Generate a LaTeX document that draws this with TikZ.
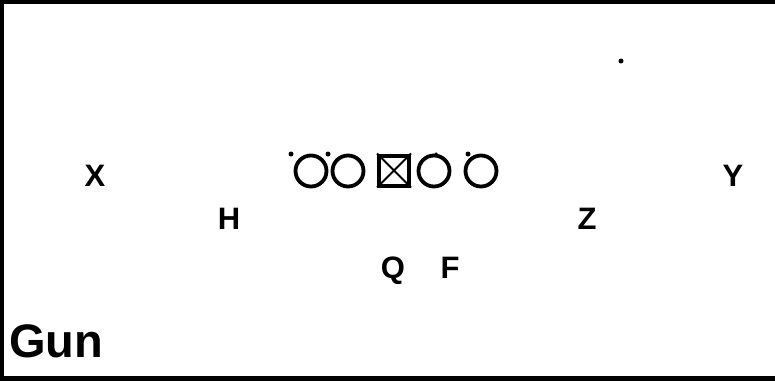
\documentclass[tikz,border=0pt]{standalone}
\usepackage{fontspec}
\setmainfont{Liberation Sans}
\begin{document}
\begin{tikzpicture}[x=1pt,y=-1pt,
  lbl/.style={font=\bfseries\fontsize{31}{31}\selectfont, inner sep=0pt, anchor=base},
  lineman/.style={draw, circle, line width=3.8pt, minimum size=31pt, inner sep=0pt},
  centerbox/.style={draw, rectangle, line width=4pt, minimum size=30pt, inner sep=0pt},
  speck/.style={fill, circle, inner sep=0pt, minimum size=5pt}]
\useasboundingbox (0,0) rectangle (775,381);
% frame
\draw[line width=3.5pt] (0,1.75) -- (775,1.75);
\draw[line width=3.5pt] (1.75,0) -- (1.75,381);
\draw[line width=5.5pt] (0,378.25) -- (775,378.25);
% line
\node[lineman] (lt) at (311,171) {};
\node[lineman] (lg) at (348,171) {};
\node[centerbox] (c) at (394,170.5) {};
\draw[line width=2pt] (c.north west) -- (c.south east);
\draw[line width=2pt] (c.north east) -- (c.south west);
\node[lineman] (rg) at (434,171) {};
\node[lineman] (rt) at (481,171) {};
% specks
\node[speck] (s1) at (291,154) {};
\node[speck] (s2) at (328,154) {};
\node[speck, minimum size=3.5pt] (s5) at (436,154) {};
\node[speck] (s3) at (468,154) {};
\node[speck] (s4) at (621,61) {};
% players
\node[lbl] (x) at (95,186) {X};
\node[lbl] (y) at (733,186) {Y};
\node[lbl] (h) at (229,229) {H};
\node[lbl] (z) at (587,229) {Z};
\node[lbl] (q) at (393,278) {Q};
\node[lbl] (f) at (450,278) {F};
\node[font=\bfseries\fontsize{47}{47}\selectfont, inner sep=0pt, anchor=base west] (gun) at (9,357) {Gun};
\end{tikzpicture}
\end{document}
